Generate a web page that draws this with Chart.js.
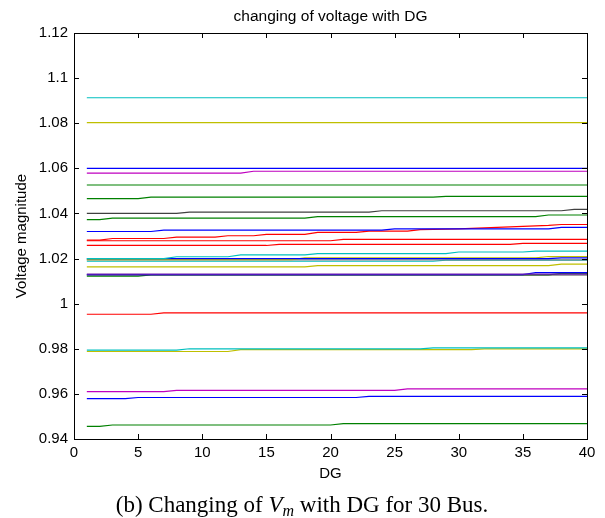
<!DOCTYPE html>
<html>
<head>
<meta charset="utf-8">
<script src="https://cdn.jsdelivr.net/npm/chart.js@4.4.1/dist/chart.umd.min.js"></script>
<style>
html,body{margin:0;padding:0;background:#fff;}
#c{display:block;}
</style>
</head>
<body>
<canvas id="c" width="605" height="518"></canvas>
<script>
// ---- data: each bus is a list of [DG, voltage] breakpoints ----
const xTicks = [0, 5, 10, 15, 20, 25, 30, 35, 40];
const yTicks = [0.94, 0.96, 0.98, 1.00, 1.02, 1.04, 1.06, 1.08, 1.10, 1.12];
const yTickLabels = ['0.94', '0.96', '0.98', '1', '1.02', '1.04', '1.06', '1.08', '1.1', '1.12'];

const bus01 = [[1,1.0913],[40,1.0913]];
const bus02 = [[1,1.0803],[40,1.0803]];
const bus03 = [[1,1.0600],[40,1.0600]];
const bus04 = [[1,1.0579],[13,1.0579],[14,1.0587],[40,1.0587]];
const bus05 = [[1,1.0526],[40,1.0526]];
const bus06 = [[1,1.0466],[5,1.0466],[6,1.0472],[28,1.0472],[29,1.0476],[40,1.0476]];
const bus07 = [[1,1.0400],[8,1.0400],[9,1.0406],[23,1.0406],[24,1.0412],[38,1.0412],[39,1.0418],[40,1.0418]];
const bus08 = [[1,1.0373],[2,1.0373],[3,1.0379],[18,1.0379],[19,1.0386],[36,1.0386],[37,1.0393],[40,1.0393]];
const bus09 = [[1,1.0320],[6,1.0320],[7,1.0326],[24,1.0326],[25,1.0332],[37,1.0332],[38,1.0338],[40,1.0338]];
const bus10 = [[1,1.0282],[2,1.0282],[3,1.0289],[7,1.0289],[8,1.0295],[11,1.0295],[12,1.0301],[14,1.0301],[15,1.0307],[18,1.0307],[19,1.0316],[22,1.0316],[23,1.0322],[26,1.0322],[27,1.0328],[30,1.0332],[33,1.0338],[35,1.0343],[37,1.0347],[38,1.0351],[40,1.0351]];
const bus11 = [[1,1.0279],[20,1.0279],[21,1.0285],[40,1.0285]];
const bus12 = [[1,1.0258],[15,1.0258],[16,1.0263],[34,1.0263],[35,1.0267],[40,1.0267]];
const bus13 = [[1,1.0200],[7,1.0200],[8,1.0208],[12,1.0208],[13,1.0216],[18,1.0216],[19,1.0222],[29,1.0222],[30,1.0229],[35,1.0229],[36,1.0233],[40,1.0233]];
const bus14 = [[1,1.0200],[37,1.0200],[38,1.0203],[40,1.0203]];
const bus15 = [[1,1.0195],[17,1.0195],[18,1.0203],[36,1.0203],[37,1.0209],[40,1.0209]];
const bus16 = [[1,1.0194],[40,1.0194]];
const bus17 = [[1,1.0188],[28,1.0188],[29,1.0193],[40,1.0193]];
const bus18 = [[1,1.0163],[18,1.0163],[19,1.0169],[37,1.0169],[38,1.0175],[40,1.0175]];
const bus19 = [[1,1.0131],[40,1.0131]];
const bus20 = [[1,1.0129],[35,1.0129],[36,1.0138],[40,1.0138]];
const bus21 = [[1,1.0127],[40,1.0127]];
const bus22 = [[1,1.0122],[5,1.0122],[6,1.0128],[37,1.0128],[38,1.0134],[40,1.0134]];
const bus23 = [[1,0.9953],[6,0.9953],[7,0.9959],[40,0.9959]];
const bus24 = [[1,0.9794],[8,0.9794],[9,0.9800],[27,0.9800],[28,0.9804],[40,0.9804]];
const bus25 = [[1,0.9788],[12,0.9788],[13,0.9796],[31,0.9796],[32,0.9800],[40,0.9800]];
const bus26 = [[1,0.9610],[7,0.9610],[8,0.9616],[25,0.9616],[26,0.9622],[40,0.9622]];
const bus27 = [[1,0.9579],[4,0.9579],[5,0.9584],[22,0.9584],[23,0.9589],[40,0.9589]];
const bus28 = [[1,0.9456],[2,0.9456],[3,0.9462],[20,0.9462],[21,0.9468],[40,0.9468]];

const C = {
  b: 'rgb(0,0,255)', g: 'rgb(0,128,0)', r: 'rgb(255,0,0)', c: 'rgb(0,191,191)',
  m: 'rgb(191,0,191)', y: 'rgb(191,191,0)', k: 'rgb(64,64,64)', p: 'rgb(110,30,170)', gr: 'rgb(130,130,130)'
};
const series = [
  [bus01,'c'],[bus02,'y'],[bus03,'b'],[bus04,'m'],[bus05,'g'],[bus06,'g'],[bus07,'k'],
  [bus08,'g'],[bus09,'b'],[bus10,'r'],[bus11,'r'],[bus12,'r'],[bus13,'c'],[bus14,'b'],
  [bus15,'y'],[bus16,'gr'],[bus17,'c'],[bus18,'y'],[bus19,'p'],[bus20,'b'],[bus21,'k'],
  [bus22,'g'],[bus23,'r'],[bus24,'c'],[bus25,'y'],[bus26,'m'],[bus27,'b'],[bus28,'g']
];

const datasets = series.map(([pts, col], i) => ({
  label: 'Bus ' + (i + 1),
  data: pts.map(p => ({x: p[0], y: p[1]})),
  borderColor: C[col],
  borderWidth: 1.2,
  pointRadius: 0,
  fill: false,
  tension: 0
}));

const FONT = 'Liberation Sans, Arial, Helvetica, sans-serif';

const boxPlugin = {
  id: 'box',
  afterDraw(chart) {
    const {ctx, chartArea: a, scales: {x, y}} = chart;
    ctx.save();
    ctx.strokeStyle = '#000';
    ctx.lineWidth = 1;
    ctx.strokeRect(Math.round(a.left) + 0.5, Math.round(a.top) + 0.5, Math.round(a.right - a.left), Math.round(a.bottom - a.top));
    const L = 5;
    ctx.beginPath();
    yTicks.forEach(v => {
      const py = Math.round(y.getPixelForValue(v)) + 0.5;
      ctx.moveTo(a.left, py); ctx.lineTo(a.left + L, py);
      ctx.moveTo(a.right, py); ctx.lineTo(a.right - L, py);
    });
    xTicks.forEach(v => {
      const px = Math.round(x.getPixelForValue(v)) + 0.5;
      ctx.moveTo(px, a.bottom); ctx.lineTo(px, a.bottom - L);
      ctx.moveTo(px, a.top); ctx.lineTo(px, a.top + L);
    });
    ctx.stroke();
    // title
    ctx.fillStyle = '#000';
    ctx.font = '15.5px ' + FONT;
    ctx.textAlign = 'center';
    ctx.textBaseline = 'middle';
    ctx.fillText('changing of voltage with DG', (a.left + a.right) / 2, 17);
    // caption
    const serif = 'Liberation Serif, "DejaVu Serif", serif';
    const p1 = '(b) Changing of ', p3 = ' with DG for 30 Bus.';
    ctx.textAlign = 'left';
    ctx.textBaseline = 'alphabetic';
    ctx.font = '23px ' + serif;
    const w1 = ctx.measureText(p1).width;
    const w3 = ctx.measureText(p3).width;
    ctx.font = 'italic 23px ' + serif;
    const wV = ctx.measureText('V').width;
    ctx.font = 'italic 16px ' + serif;
    const wm = ctx.measureText('m').width;
    const total = w1 + wV + wm + w3;
    let cx = 302 - total / 2;
    const by = 512;
    ctx.font = '23px ' + serif; ctx.fillText(p1, cx, by); cx += w1;
    ctx.font = 'italic 23px ' + serif; ctx.fillText('V', cx, by); cx += wV;
    ctx.font = 'italic 16px ' + serif; ctx.fillText('m', cx, by + 4); cx += wm;
    ctx.font = '23px ' + serif; ctx.fillText(p3, cx, by);
    ctx.restore();
  }
};

new Chart(document.getElementById('c'), {
  type: 'line',
  data: {datasets},
  options: {
    responsive: false,
    animation: false,
    layout: {padding: {top: 33, right: 18, bottom: 25, left: 0}},
    plugins: {legend: {display: false}, title: {display: false}, tooltip: {enabled: false}},
    scales: {
      x: {
        type: 'linear', min: 0, max: 40,
        afterBuildTicks: s => { s.ticks = xTicks.map(v => ({value: v})); },
        ticks: {color: '#000', font: {family: FONT, size: 15}, padding: 5, maxRotation: 0, autoSkip: false},
        grid: {display: false, drawTicks: false},
        border: {display: false},
        title: {display: true, text: 'DG', color: '#000', font: {family: FONT, size: 15}, padding: {top: 0, bottom: 10}},
        afterFit: s => { s.height = 54; }
      },
      y: {
        type: 'linear', min: 0.94, max: 1.12,
        afterBuildTicks: s => { s.ticks = yTicks.map(v => ({value: v})); },
        ticks: {
          color: '#000', font: {family: FONT, size: 15}, padding: 6, autoSkip: false,
          callback: (v) => { const i = yTicks.findIndex(t => Math.abs(t - v) < 1e-9); return i >= 0 ? yTickLabels[i] : ''; }
        },
        grid: {display: false, drawTicks: false},
        border: {display: false},
        title: {display: true, text: 'Voltage magnitude', color: '#000', font: {family: FONT, size: 15}, padding: {top: 13, bottom: 0}},
        afterFit: s => { s.width = 74; }
      }
    }
  },
  plugins: [boxPlugin]
});
</script>
</body>
</html>
